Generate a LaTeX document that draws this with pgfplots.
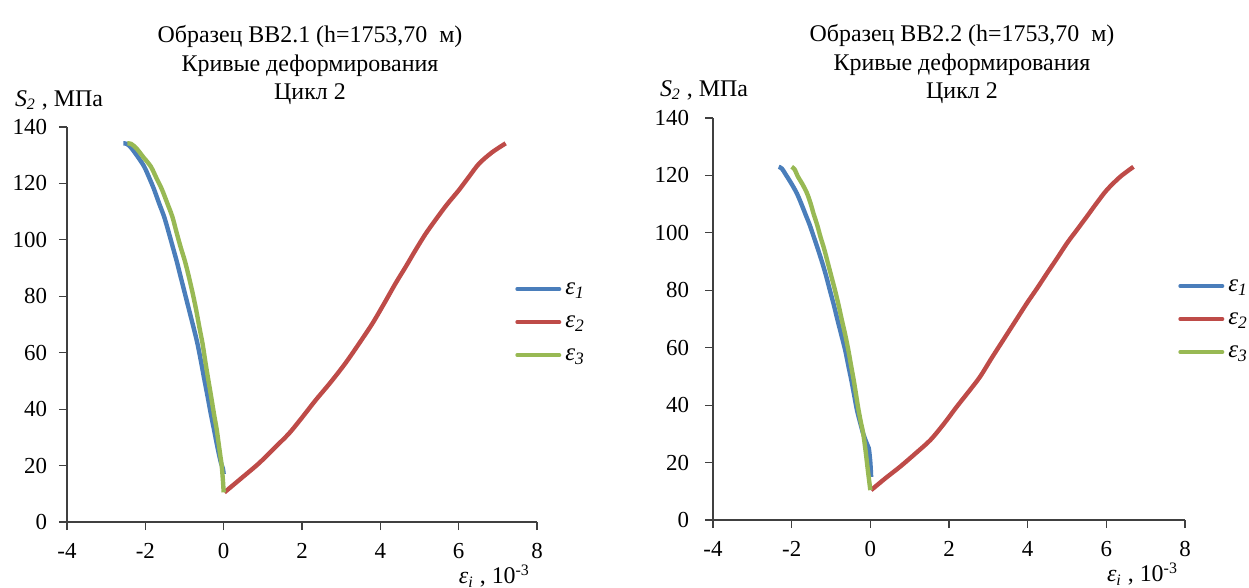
\documentclass[border=0pt]{standalone}
\usepackage{fontspec}
\setmainfont{Liberation Serif}
\usepackage{pgfplots}
\pgfplotsset{compat=1.18}
\definecolor{cb}{HTML}{4A7EBB}
\definecolor{cr}{HTML}{BE4B48}
\definecolor{cg}{HTML}{98B954}
\pgfplotsset{
 mystyle/.style={
  scale only axis,
  axis x line=bottom, axis y line=left,
  axis line style={-, black!75, line width=0.6bp},
  xmin=-4,xmax=8,ymin=0,ymax=140,
  xtick={-4,-2,...,8}, xticklabels={-4,-2,0,2,4,6,8},
  ytick={0,20,...,140}, yticklabels={0,20,40,60,80,100,120,140},
  tick align=outside, major tick length=4bp,
  tick style={black!75, line width=0.6bp},
  ticklabel style={font=\fontsize{11.5}{13}\selectfont},
  xticklabel style={yshift=-3bp},
  legend style={draw=none, fill=none, inner sep=0pt, font=\fontsize{12.5}{14}\selectfont, row sep=5bp,
     nodes={inner sep=0pt, text height=8.5bp, text depth=3bp},
     /tikz/every odd column/.append style={column sep=2bp}},
  legend image code/.code={\draw[#1, line width=2bp, line cap=round, sharp plot] (0bp,0bp) -- (21bp,0bp);},
  legend cell align=left,
  clip=false,
  every axis x label/.style={at={(rel axis cs:1,0)}, anchor=east, font=\fontsize{12}{14}\selectfont},
  every axis y label/.style={at={(rel axis cs:0,1)}, anchor=center, font=\fontsize{12}{14}\selectfont},
  title style={at={(rel axis cs:0.5,1)}, anchor=center, align=center, font=\fontsize{12}{14.25}\selectfont},
  xlabel={\textit{ε\textsubscript{i}} , 10\textsuperscript{-3}},
  ylabel={\textit{S}\textsubscript{\textit{2}} , МПа},
 },
 crv/.style={line width=2.2bp, mark=none, smooth, tension=0.5, #1},
}
\begin{document}
\begin{tikzpicture}
\path[use as bounding box] (0,0) rectangle (624.5bp,294bp);
\begin{axis}[mystyle,
  at={(33.5bp,33bp)}, anchor=south west, width=235bp, height=197.5bp,
  xlabel style={yshift=-27bp},
  ylabel style={xshift=-4bp, yshift=13.5bp},
  title={Образец ВВ2.1\ (h=1753,70\ \ м)\\Кривые деформирования\\Цикл 2},
  title style={xshift=4bp, yshift=25bp},
  yticklabel style={xshift=-2.5bp},
  legend style={at={(rel axis cs:0.953,0.506)}, anchor=west},
]
\addplot[crv=cb] coordinates {(-2.56,134.2) (-2.47,134.0) (-2.36,132.6) (-2.2,129.6) (-2.03,126) (-1.9,122) (-1.78,118) (-1.65,113) (-1.52,108.2) (-1.40,102.5) (-1.30,97.5) (-1.20,92.5) (-1.10,87) (-0.99,81) (-0.88,75) (-0.77,69) (-0.67,63.3) (-0.58,57) (-0.50,51) (-0.41,44.5) (-0.33,38.5) (-0.25,33) (-0.18,28) (-0.12,24) (-0.07,21) (-0.02,19) (0.0,17)};
\addlegendentry{\textit{ε\textsubscript{1}}}
\addplot[crv=cr] coordinates {(0.02,10.5) (0.45,15.5) (0.9,20.8) (1.28,26) (1.67,31.4) (2.0,37) (2.35,43.2) (2.73,49.5) (3.11,56.3) (3.46,63.3) (3.80,70.4) (4.1,77.5) (4.39,84.6) (4.65,90.5) (4.90,96.4) (5.15,102) (5.41,107.1) (5.7,112.5) (6.01,117.7) (6.27,122.5) (6.52,127) (6.85,131) (7.20,134.2)};
\addlegendentry{\textit{ε\textsubscript{2}}}
\addplot[crv=cg] coordinates {(-2.46,134.2) (-2.36,134.0) (-2.22,132.3) (-2.05,129.3) (-1.86,126) (-1.72,122) (-1.58,118) (-1.44,113) (-1.31,108.2) (-1.20,102.5) (-1.10,97.5) (-0.99,92.5) (-0.89,87) (-0.79,81) (-0.70,75) (-0.62,69) (-0.54,63.3) (-0.47,57) (-0.40,51) (-0.32,44.5) (-0.25,38.5) (-0.18,33) (-0.13,28) (-0.08,23) (-0.05,20) (-0.02,15) (0.0,10.5)};
\addlegendentry{\textit{ε\textsubscript{3}}}
\end{axis}
\begin{axis}[mystyle,
  at={(356.5bp,34bp)}, anchor=south west, width=236bp, height=201bp,
  xlabel style={yshift=-27bp},
  ylabel style={xshift=-4.5bp, yshift=14bp},
  title={Образец ВВ2.2\ (h=1753,70\ \ м)\\Кривые деформирования\\Цикл 2},
  title style={xshift=6.5bp, yshift=21bp},
  yticklabel style={xshift=-4.5bp},
  legend style={at={(rel axis cs:0.985,0.5)}, anchor=west},
]
\addplot[crv=cb] coordinates {(-2.33,123) (-2.25,122.4) (-2.15,120.3) (-2.0,117) (-1.87,113.8) (-1.76,110.3) (-1.65,106.5) (-1.54,102.7) (-1.44,98.7) (-1.33,94.2) (-1.22,89.5) (-1.12,84.8) (-1.03,80.1) (-0.93,75) (-0.84,70) (-0.74,64.6) (-0.64,59.2) (-0.56,53.8) (-0.48,48.5) (-0.41,43.4) (-0.34,38.3) (-0.26,34) (-0.18,30) (-0.10,27) (-0.04,25) (0.0,20) (0.02,15)};
\addlegendentry{\textit{ε\textsubscript{1}}}
\addplot[crv=cr] coordinates {(0.02,10.4) (0.38,14.5) (0.76,18.6) (1.15,23.2) (1.53,27.9) (1.87,33.5) (2.20,39.5) (2.5,44.7) (2.79,49.9) (3.08,56.3) (3.38,62.7) (3.68,69.1) (3.98,75.5) (4.24,80.7) (4.49,85.9) (4.75,91.2) (5.0,96.4) (5.25,101) (5.50,105.6) (5.75,110.3) (6.01,114.9) (6.35,119.5) (6.69,123)};
\addlegendentry{\textit{ε\textsubscript{2}}}
\addplot[crv=cg] coordinates {(-2.0,123) (-1.92,122) (-1.85,119.8) (-1.72,116.8) (-1.61,113.8) (-1.52,110.3) (-1.44,106.5) (-1.35,102.7) (-1.27,98.7) (-1.17,94.2) (-1.08,89.5) (-0.99,84.8) (-0.90,80.1) (-0.81,75) (-0.73,70) (-0.64,64.6) (-0.56,59.2) (-0.49,53.8) (-0.42,48.5) (-0.36,43.4) (-0.30,38.3) (-0.24,34) (-0.18,30) (-0.12,24) (-0.06,17) (0.0,10.4)};
\addlegendentry{\textit{ε\textsubscript{3}}}
\end{axis}
\end{tikzpicture}
\end{document}
